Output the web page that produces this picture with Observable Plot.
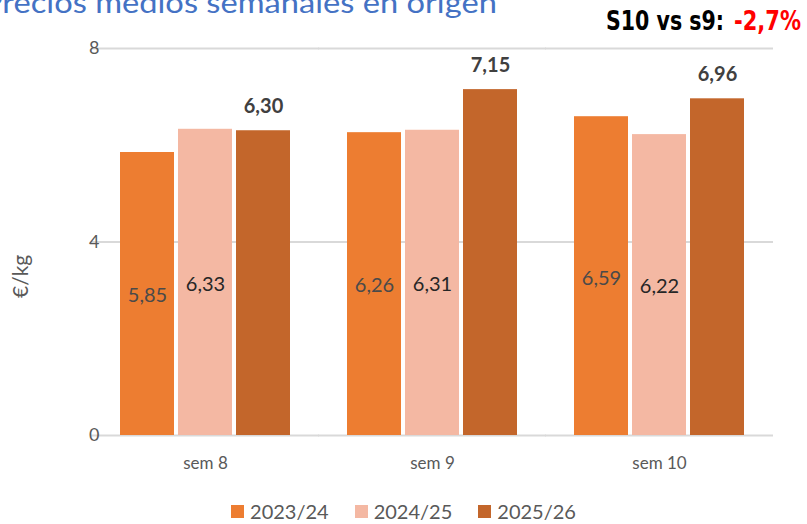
<!DOCTYPE html>
<html>
<head>
<meta charset="utf-8">
<script src="https://cdn.jsdelivr.net/npm/d3@7"></script>
<script src="https://cdn.jsdelivr.net/npm/@observablehq/plot@0.6"></script>
<style>
  html, body { margin: 0; padding: 0; background: #fff; overflow: hidden; }
  #wrap { position: relative; width: 807px; height: 524px; overflow: hidden; }
  #overlay { position: absolute; left: 0; top: 0; }
  #legendBox { position: absolute; left: 0; top: 502px; width: 807px; display: flex; justify-content: center; }
  #legendBox div, #legendBox span { font-family: Lato, "Open Sans", sans-serif !important; font-size: 20px !important; color: #595959 !important; line-height: 18px !important; min-height: 18px !important; margin-left: 0 !important; }
  #legendBox .leg-swatch { margin-right: 26px !important; }
  #legendBox .leg-swatch:last-child { margin-right: 0 !important; }
  #legendBox .leg-swatch > svg { margin-right: 6px !important; }
</style>
</head>
<body>
<div id="wrap"></div>
<script>
const weeks = ["sem 8", "sem 9", "sem 10"];
const seasons = ["2023/24", "2024/25", "2025/26"];
const values2023 = [5.85, 6.26, 6.59];
const values2024 = [6.33, 6.31, 6.22];
const values2025 = [6.30, 7.15, 6.96];
const yTicks = [0, 4, 8];
const seasonColors = ["#ED7D31", "#F4B8A3", "#C3662B"];
const titleText = "Precios medios semanales en origen";
const noteLabel = "S10 vs s9:";
const noteValue = "-2,7%";
const yLabel = "€/kg";

const series = [values2023, values2024, values2025];
const rows = weeks.flatMap((w, i) => seasons.map((s, j) => ({week: w, season: s, value: series[j][i], k: j})));
const fmt = v => d3.format(".2f")(v).replace(".", ",");

const chart = Plot.plot({
  width: 807,
  height: 490,
  marginTop: 48,
  marginBottom: 55,
  marginLeft: 92,
  marginRight: 34,
  style: {fontFamily: "Lato, 'Open Sans', sans-serif", color: "#595959", background: "#fff"},
  fx: {domain: weeks, paddingInner: 0.242, paddingOuter: 0.121, label: null},
  x: {domain: seasons, paddingInner: 0.07, paddingOuter: 0, axis: null},
  y: {domain: [0, 8], label: null, axis: null},
  color: {domain: seasons, range: seasonColors},
  marks: [
    Plot.ruleY(yTicks, {stroke: "#d9d9d9", strokeWidth: 2, insetLeft: -28, insetRight: -28}),
    Plot.barY(rows, {fx: "week", x: "season", y: "value", fill: "season"}),
    Plot.text(rows.filter(d => d.k < 2), {
      fx: "week", x: "season", y: d => d.value / 2, text: d => fmt(d.value),
      fontSize: 20, dy: 2, fill: d => d.k === 0 ? "#4a4a4a" : "#262626"
    }),
    Plot.text(rows.filter(d => d.k === 2), {
      fx: "week", x: "season", y: "value", text: d => fmt(d.value),
      fontSize: 20, fontWeight: "bold", dy: -24, fill: "#404040"
    }),
    Plot.axisY({ticks: yTicks, tickSize: 0, tickPadding: 20, fontSize: 18, label: null, fill: "#595959"}),
    Plot.axisFx({anchor: "bottom", tickSize: 0, tickPadding: 21, fontSize: 17, label: null, fill: "#595959"}),
    Plot.text([{week: weeks[0]}], {
      fx: "week", text: () => yLabel, frameAnchor: "left", rotate: -90,
      dx: -98, dy: 56, fontSize: 21, fill: "#595959"
    })
  ]
});

const wrap = document.getElementById("wrap");
wrap.appendChild(chart);

const legendBox = document.createElement("div");
legendBox.id = "legendBox";
legendBox.appendChild(Plot.legend({
  color: {domain: seasons, range: seasonColors},
  swatchSize: 13,
  className: "leg"
}));
wrap.appendChild(legendBox);

// Title (cropped at the top of the picture) and the note at top right
const ov = d3.select(wrap).append("svg")
  .attr("id", "overlay").attr("width", 807).attr("height", 60);

// Stretch a text horizontally so that it spans [x0, x1]
function fitText(sel, x0, x1) {
  const node = sel.node();
  const w = node.getComputedTextLength();
  const s = (x1 - x0) / w;
  sel.attr("transform", `translate(${x0},0) scale(${s},1) translate(${-x0},0)`);
}

const title = ov.append("text")
  .attr("x", -17).attr("y", 13)
  .attr("font-family", "Lato, 'Open Sans', sans-serif")
  .attr("font-size", 28)
  .attr("fill", "#4472C4")
  .text(titleText);
fitText(title, -17, 497);

const noteFont = "'Liberation Sans Narrow', 'DejaVu Sans Condensed', 'DejaVu Sans', sans-serif";
const n1 = ov.append("text")
  .attr("x", 606).attr("y", 30)
  .attr("font-family", noteFont)
  .attr("font-stretch", "condensed")
  .attr("font-weight", "bold")
  .attr("font-size", 27)
  .attr("fill", "#000")
  .text(noteLabel);
fitText(n1, 606, 724);
const n2 = ov.append("text")
  .attr("x", 734).attr("y", 30)
  .attr("font-family", noteFont)
  .attr("font-stretch", "condensed")
  .attr("font-weight", "bold")
  .attr("font-size", 27)
  .attr("fill", "#FF0000")
  .text(noteValue);
fitText(n2, 734, 801);
</script>
</body>
</html>
